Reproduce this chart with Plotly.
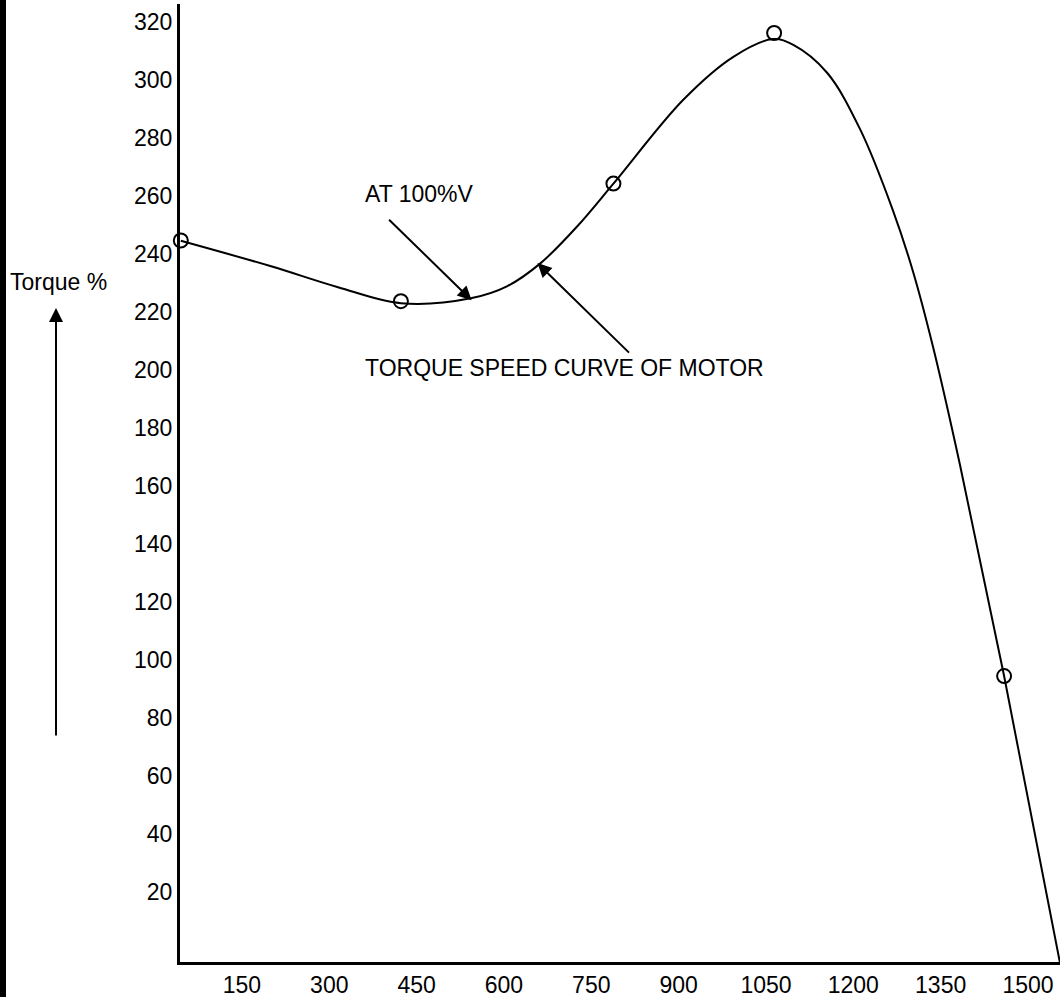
import plotly.graph_objects as go

# Curve (speed in rpm, torque in %)
speed = [45, 200, 315, 423, 543, 606, 663, 726, 788, 908, 994, 1062, 1097,
         1155, 1212, 1268, 1303, 1337, 1383, 1459, 1555]
torque = [244.5, 235.7, 228.5, 223.0, 224.7, 228.9, 236.8, 249.5, 264.2, 293.1,
          307.9, 314.0, 312.0, 302.4, 282.8, 255.0, 233.6, 207.9, 167.5, 94.5, -4.4]

# Open-circle markers
marker_speed = [45, 423, 788, 1064, 1459]
marker_torque = [244.6, 223.7, 264.2, 316.1, 94.5]

x_ticks = [150, 300, 450, 600, 750, 900, 1050, 1200, 1350, 1500]
y_ticks = [20, 40, 60, 80, 100, 120, 140, 160, 180, 200, 220, 240, 260, 280, 300, 320]

FONT = "Arial, Liberation Sans, sans-serif"
FS = 23
W, H = 1060, 998
L, R, T, B = 180, 0, 4, 33
PW, PH = W - L - R, H - T - B


def px(xp):
    return (xp - L) / PW


def py(yp):
    return (H - B - yp) / PH


fig = go.Figure()
fig.add_trace(go.Scatter(x=speed, y=torque, mode="lines",
                         line=dict(color="black", width=2, shape="spline", smoothing=1.0),
                         hoverinfo="skip", showlegend=False))
fig.add_trace(go.Scatter(x=marker_speed, y=marker_torque, mode="markers",
                         marker=dict(symbol="circle-open", size=14, color="black",
                                     line=dict(width=2, color="black")),
                         cliponaxis=False, showlegend=False))

annotations = [
    dict(x=357.5, y=260.5, xref="x", yref="y", text="AT 100%V", showarrow=False,
         xanchor="left", yanchor="middle", font=dict(size=FS, color="black", family=FONT)),
    dict(x=357.5, y=200.5, xref="x", yref="y", text="TORQUE SPEED CURVE OF MOTOR",
         showarrow=False, xanchor="left", yanchor="middle",
         font=dict(size=FS, color="black", family=FONT)),
    dict(x=544.4, y=224.0, xref="x", yref="y", text="", showarrow=True,
         ax=-84, ay=-82, arrowhead=2, arrowsize=1.4, arrowwidth=2, arrowcolor="black"),
    dict(x=657.6, y=236.8, xref="x", yref="y", text="", showarrow=True,
         ax=93, ay=91, arrowhead=2, arrowsize=1.4, arrowwidth=2, arrowcolor="black"),
    dict(x=px(8), y=py(283), xref="paper", yref="paper", text="Torque %", showarrow=False,
         xanchor="left", yanchor="middle", font=dict(size=FS, color="black", family=FONT)),
    dict(x=px(56), y=py(309), xref="paper", yref="paper", text="", showarrow=True,
         ax=0, ay=429, arrowhead=2, arrowsize=1.4, arrowwidth=2, arrowcolor="black"),
]

shapes = [
    dict(type="line", xref="paper", yref="paper", x0=px(3), x1=px(3),
         y0=py(H + 2), y1=py(-2), line=dict(color="black", width=6)),
]

fig.update_layout(
    width=W, height=H,
    margin=dict(l=L, r=R, t=T, b=B, pad=0),
    paper_bgcolor="white", plot_bgcolor="white",
    font=dict(family=FONT, size=FS, color="black"),
    annotations=annotations, shapes=shapes,
    xaxis=dict(range=[43.6, 1555], tickmode="array", tickvals=x_ticks,
               ticktext=[str(v) for v in x_ticks], showgrid=False, zeroline=False,
               showline=True, linecolor="black", linewidth=3, ticks="",
               tickfont=dict(size=FS, family=FONT, color="black")),
    yaxis=dict(range=[-4.05, 326.1], tickmode="array", tickvals=y_ticks,
               ticktext=[str(v) for v in y_ticks], showgrid=False, zeroline=False,
               showline=True, linecolor="black", linewidth=3, ticks="",
               tickfont=dict(size=FS, family=FONT, color="black")),
)

fig.write_html("out.html", config={"displayModeBar": False},
               post_script="document.body.style.margin='0';document.body.style.overflow='hidden';")
